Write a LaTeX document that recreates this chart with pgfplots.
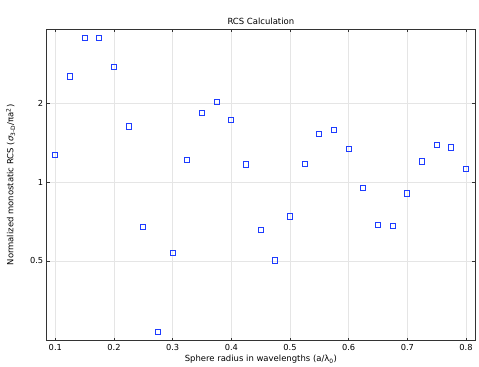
\documentclass[border=0pt]{standalone}
\usepackage{fontspec}
\setmainfont{DejaVu Sans}
\usepackage{pgfplots}
\pgfplotsset{compat=1.18}
\begin{document}
\begin{tikzpicture}
\begin{axis}[
  scale only axis,
  width=428.3bp, height=311.4bp,
  ymode=log,
  xmin=0.0853, xmax=0.8153,
  ymin=0.2481, ymax=3.83,
  xtick={0.1,0.2,...,0.8},
  xticklabels={0.1,0.2,0.3,0.4,0.5,0.6,0.7,0.8},
  ytick={0.5,1,2},
  yticklabels={0.5,1,2},
  minor ytick={},
  log ticks with fixed point,
  tick align=inside,
  major tick length=3bp,
  xtick pos=both, ytick pos=both,
  xticklabel pos=lower, yticklabel pos=left,
  grid=major,
  grid style={gray!20, line width=0.6pt},
  axis line style={black!80, line width=0.8pt},
  tick style={black!80, line width=0.8pt},
  /pgf/number format/assume math mode=true,
  ticklabel style={font=\fontsize{8.3}{10}\selectfont},
  title={RCS Calculation},
  title style={font=\fontsize{8.5}{10}\selectfont, yshift=-5bp},
  xlabel={Sphere radius in wavelengths (a/λ\textsubscript{0})},
  ylabel={Normalized monostatic RCS (\textit{σ}\textsubscript{3-D}/πa\textsuperscript{2})},
  label style={font=\fontsize{8.5}{10}\selectfont},
  xlabel style={yshift=2bp},
  ylabel style={yshift=8bp},
]
\addplot[only marks, mark=square, mark size=2.6bp, color={rgb,255:red,30;green,60;blue,255}, line width=1.0pt] coordinates {
(0.1,1.271) (0.125,2.53) (0.15,3.56) (0.175,3.56) (0.2,2.75)
(0.225,1.63) (0.25,0.675) (0.275,0.267) (0.3,0.535) (0.325,1.217)
(0.35,1.829) (0.375,2.02) (0.4,1.73) (0.425,1.167) (0.45,0.657)
(0.475,0.502) (0.5,0.739) (0.525,1.175) (0.55,1.529) (0.575,1.584)
(0.6,1.337) (0.625,0.949) (0.65,0.687) (0.675,0.679) (0.7,0.905)
(0.725,1.198) (0.75,1.388) (0.775,1.356) (0.8,1.121)
};
\end{axis}
\path (current axis.south west) ++(-46.7bp,-25.3bp) rectangle ++(479bp,366bp);
\end{tikzpicture}
\end{document}
